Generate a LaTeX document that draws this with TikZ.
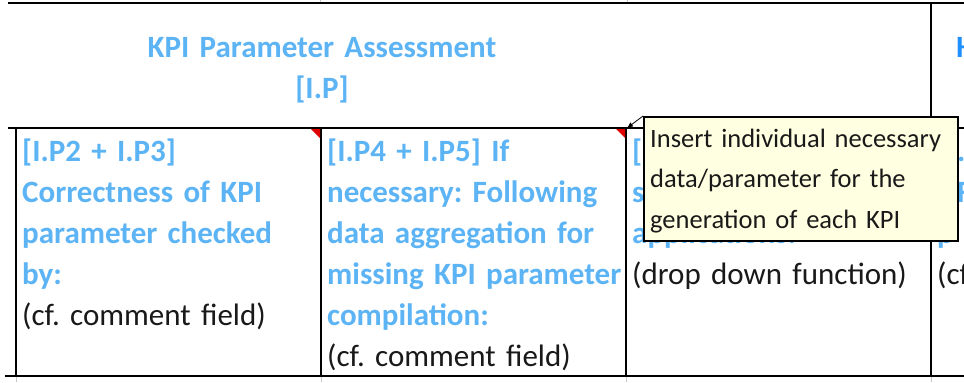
\documentclass[tikz,border=0pt]{standalone}
\usepackage{fontspec}
\setmainfont{Carlito}
\usetikzlibrary{arrows.meta}
\definecolor{kpiblue}{RGB}{92,180,245}
\definecolor{kpidark}{RGB}{30,144,255}
\definecolor{tipfill}{RGB}{255,255,225}
\definecolor{gridgray}{RGB}{200,200,200}
\definecolor{txt}{RGB}{25,25,25}
\definecolor{cornerred}{RGB}{225,0,0}
\frenchspacing
\begin{document}
\begin{tikzpicture}[x=1bp,y=-1bp,
  border/.style={line width=2bp, black},
  gridline/.style={line width=0.8bp, gridgray},
  celltext/.style={anchor=north west, inner sep=0pt, align=left, text width=600bp,
    font=\fontsize{31bp}{41bp}\selectfont\bfseries, text=kpiblue},
  headtext/.style={anchor=north, inner sep=0pt, align=center, text width=600bp,
    font=\fontsize{31bp}{41bp}\selectfont\bfseries, text=kpiblue},
  tipbox/.style={anchor=north west, draw=black, line width=1.5bp, fill=tipfill,
    minimum width=314bp, minimum height=124bp, inner sep=0pt},
  tiptext/.style={anchor=north west, inner sep=0pt, align=left, text width=400bp,
    font=\fontsize{26.5bp}{40.5bp}\selectfont, text=txt},
  pointer/.style={line width=0.8bp, black, -{Latex[length=6bp,width=5bp]}},
  redcorner/.style={fill=cornerred, draw=none}
]
\useasboundingbox (0,0) rectangle (964,382);
\clip (0,0) rectangle (964,382);
\fill[white] (0,0) rectangle (964,382);

% faint spreadsheet grid outside the table
\draw[gridline] (320,0) -- (320,3);
\draw[gridline] (627,0) -- (627,3);
\foreach \gx in {16,321,626,931} \draw[gridline] (\gx,376) -- (\gx,382);

% table borders
\draw[border] (8,3) -- (964,3);
\draw[border] (8,128) -- (964,128);
\draw[border] (5,376) -- (964,376);
\draw[border] (931,3) -- (931,376);
\foreach \vx in {16,321,626} \draw[border] (\vx,128) -- (\vx,376);

% red comment markers
\fill[redcorner] (311,129) -- (320,129) -- (320,138) -- cycle;
\fill[redcorner] (616,129) -- (625,129) -- (625,138) -- cycle;

% header
\node[headtext] (head) at (322,27) {\rule{0pt}{30bp}KPI Parameter Assessment\\{[I.P]}};
\node[celltext, text=kpidark] (headnext) at (956,27) {\rule{0pt}{30bp}H};

% cells
\node[celltext] (c1) at (22,131) {\rule{0pt}{30bp}{[I.P2 + I.P3]}\\Correctness of KPI\\parameter checked\\by:\\{\color{txt}\mdseries (cf. comment field)}};
\node[celltext] (c2) at (327,131) {\rule{0pt}{30bp}{[I.P4 + I.P5]} If\\necessary: Following\\data aggregation for\\missing KPI parameter\\compilation:\\{\color{txt}\mdseries (cf. comment field)}};
\node[celltext] (c3) at (632,131) {\rule{0pt}{30bp}{[}\\s\\applications:\\{\color{txt}\mdseries (drop down function)}};
\node[celltext] (c4) at (937,131) {\rule{0pt}{30bp}\hspace*{20bp}.\\\hspace*{20bp}F\\p\\{\color{txt}\mdseries (cf. comment field)}};

% comment tooltip
\coordinate (corner) at (627,128);
\node[tipbox] (tip) at (643,116) {};
\node[tiptext] (tiptxt) at (650,123) {\rule{0pt}{24bp}Insert individual necessary\\data/parameter for the\\generation of each KPI};
\draw[pointer] (tip.north west) -- (corner);
\end{tikzpicture}
\end{document}
